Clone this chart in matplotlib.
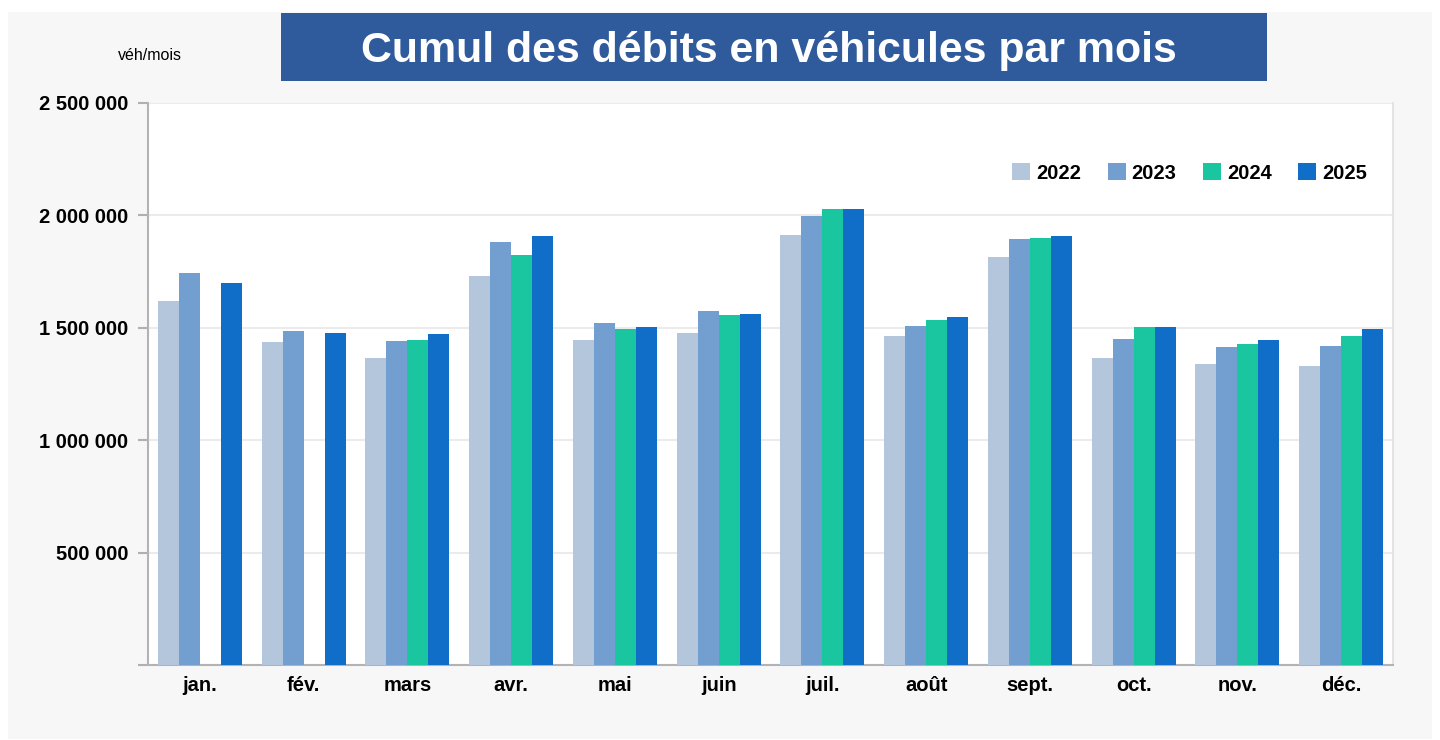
import matplotlib
matplotlib.use("Agg")
import matplotlib.pyplot as plt
import numpy as np
from matplotlib.patches import Rectangle

plt.rcParams['font.family'] = ['Liberation Sans', 'DejaVu Sans']

months = ['jan.', 'fév.', 'mars', 'avr.', 'mai', 'juin',
          'juil.', 'août', 'sept.', 'oct.', 'nov.', 'déc.']
years = ['2022', '2023', '2024', '2025']
v2022 = [1619000, 1437000, 1366000, 1730000, 1446000, 1477000,
         1913000, 1463000, 1815000, 1366000, 1339000, 1330000]
v2023 = [1744000, 1486000, 1441000, 1882000, 1521000, 1575000,
         1997000, 1508000, 1895000, 1450000, 1415000, 1419000]
v2024 = [np.nan, np.nan, 1446000, 1824000, 1495000, 1557000,
         2028000, 1535000, 1899000, 1503000, 1428000, 1463000]
v2025 = [1699000, 1477000, 1472000, 1908000, 1503000, 1561000,
         2028000, 1548000, 1908000, 1503000, 1446000, 1495000]
colors = ['#b4c6dc', '#729fcf', '#19c6a0', '#106ec8']

W, H = 1440, 740
fig = plt.figure(figsize=(14.4, 7.4), dpi=100, facecolor='white')

# gray panel and title box
fig.patches.append(Rectangle((8 / W, 1 / H), 1424 / W, 727 / H, transform=fig.transFigure,
                             facecolor='#f7f7f7', edgecolor='none', zorder=0))
fig.patches.append(Rectangle((281 / W, 1 - 81 / H), 986 / W, 68 / H, transform=fig.transFigure,
                             facecolor='#2f5b9d', edgecolor='none', zorder=1))
fig.text(769 / W, 1 - 62 / H, 'Cumul des débits en véhicules par mois', color='white',
         fontsize=30.9, fontweight='bold', ha='center', va='baseline', zorder=3)
fig.text(150 / W, 1 - 56 / H, 'véh/mois', fontsize=11.5, ha='center', va='center', zorder=3)

ax = fig.add_axes([148 / W, 1 - 665 / H, 1245 / W, 562 / H])
ax.set_zorder(2)
ax.set_facecolor('white')

x = np.arange(len(months))
bw = 0.2025
for i, (vals, c, lab) in enumerate(zip([v2022, v2023, v2024, v2025], colors, years)):
    ax.bar(x + (i - 1.5) * bw, vals, width=bw, color=c, label=lab, zorder=3)

ax.set_xlim(-0.5, len(months) - 0.5)
ax.set_ylim(0, 2500000)
yt = [0, 500000, 1000000, 1500000, 2000000, 2500000]
ax.set_yticks(yt)
ax.set_yticklabels([''] + [f'{v:,}'.replace(',', ' ') for v in yt[1:]],
                   fontsize=14.5, fontweight='bold')
ax.set_xticks(x)
ax.set_xticklabels(months, fontsize=14.5, fontweight='bold')
ax.tick_params(axis='x', length=0, pad=8)
ax.tick_params(axis='y', length=7, width=1.5, color='#b0b0b0', pad=7)
ax.grid(axis='y', color='#ebebeb', linewidth=1.5, zorder=0)

ax.spines['top'].set_visible(False)
ax.spines['left'].set_color('#b3b3b3')
ax.spines['left'].set_linewidth(1.5)
ax.spines['bottom'].set_color('#b3b3b3')
ax.spines['bottom'].set_linewidth(1.5)
ax.spines['right'].set_color('#e3e3e3')
ax.spines['right'].set_linewidth(1.5)

ax.legend(loc='center right', bbox_to_anchor=(1377 / W, 1 - 173 / H),
          bbox_transform=fig.transFigure, ncol=4, frameon=False,
          prop={'size': 14.5, 'weight': 'bold'}, borderpad=0,
          handlelength=0.9, handleheight=0.9, handletextpad=0.3,
          columnspacing=1.3)

fig.savefig('out.png', dpi=100, facecolor='white')
